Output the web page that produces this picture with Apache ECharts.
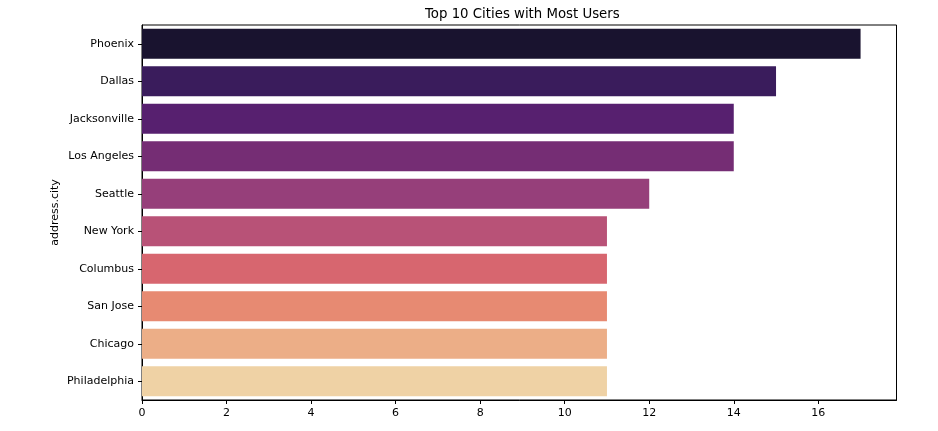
<!DOCTYPE html>
<html>
<head>
<meta charset="utf-8">
<script src="https://cdn.jsdelivr.net/npm/echarts@6/dist/echarts.min.js"></script>
<style>
html,body{margin:0;padding:0;background:#fff;}
#chart{width:938px;height:431px;}
</style>
</head>
<body>
<div id="chart"></div>
<script>
const cities = ["Phoenix","Dallas","Jacksonville","Los Angeles","Seattle","New York","Columbus","San Jose","Chicago","Philadelphia"];
const userCounts = [17,15,14,14,12,11,11,11,11,11];
const barColors = ["#19132f","#3a1c5c","#57206f","#752d74","#963f7a","#b85277","#d7666f","#e78a72","#ecae87","#efd2a5"];
const xTicks = [0,2,4,6,8,10,12,14,16];

const font = "DejaVu Sans";
const chart = echarts.init(document.getElementById('chart'), null, {renderer:'canvas'});
chart.setOption({
  backgroundColor:'#ffffff',
  animation:false,
  color: barColors,
  title:{
    text:'Top 10 Cities with Most Users',
    left:420, top:3,
    textStyle:{fontFamily:font,fontSize:13.3,fontWeight:'normal',color:'#000'}
  },
  grid:{left:142,right:41.5,top:25,bottom:31,show:true,borderColor:'#000',borderWidth:1,backgroundColor:'transparent'},
  xAxis:{
    type:'value', min:0, max:17.85, interval:2,
    splitLine:{show:false},
    axisLine:{show:true,lineStyle:{color:'#000',width:1}},
    axisTick:{show:true,length:4,lineStyle:{color:'#000',width:1},
      customValues: xTicks},
    axisLabel:{fontFamily:font,fontSize:11,color:'#000',margin:8,
      customValues: xTicks,
      formatter:v=> xTicks.includes(v)? String(v):''}
  },
  yAxis:{
    type:'category', data:cities, inverse:true,
    name:'address.city', nameLocation:'middle', nameGap:81, nameMoveOverlap:false,
    nameTextStyle:{fontFamily:font,fontSize:11,color:'#000'},
    axisLine:{show:true,lineStyle:{color:'#000',width:1}},
    axisTick:{show:true,alignWithLabel:true,length:4,lineStyle:{color:'#000',width:1}},
    axisLabel:{fontFamily:font,fontSize:11,color:'#000',margin:8}
  },
  series:[{
    type:'bar',
    data:userCounts,
    colorBy:'data',
    barCategoryGap:'20%',
    itemStyle:{borderWidth:0}
  }]
});
</script>
</body>
</html>
